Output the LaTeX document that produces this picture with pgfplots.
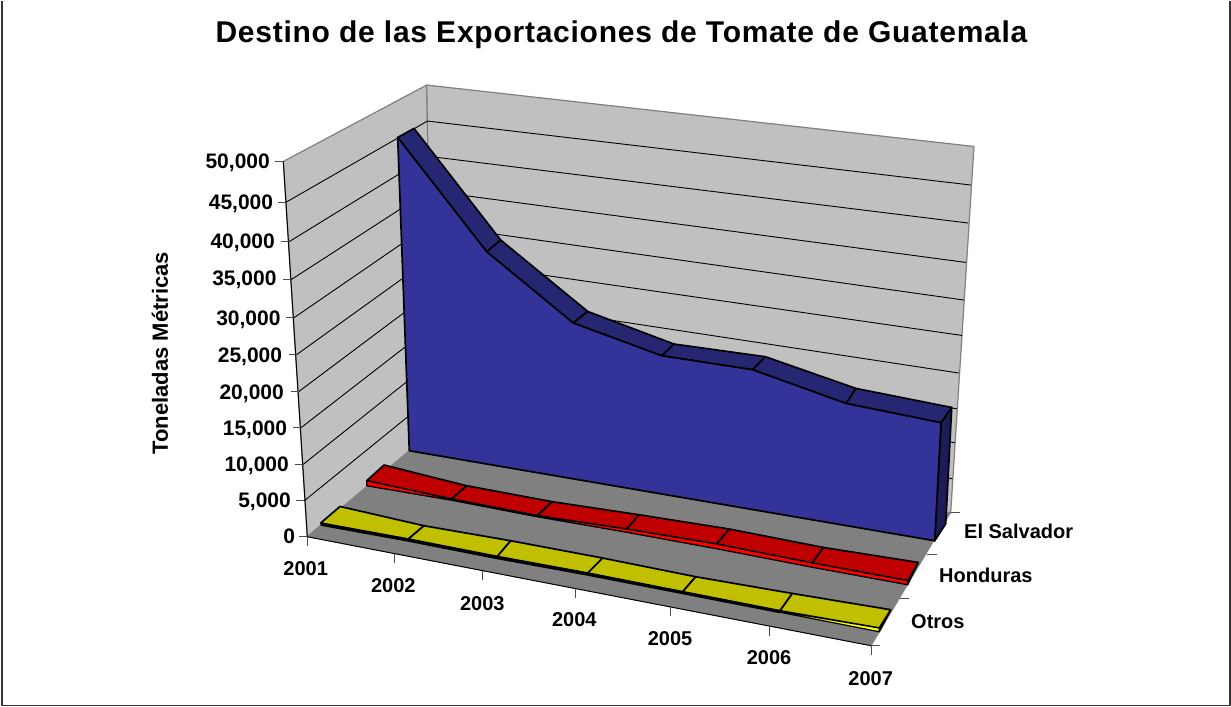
\documentclass[border=0pt]{standalone}
\usepackage{fontspec}
\setmainfont{Liberation Sans}
\usepackage{pgfplots}
\pgfplotsset{compat=1.18}
\definecolor{wall}{HTML}{C0C0C0}
\definecolor{flr}{HTML}{808080}
\definecolor{blueF}{HTML}{333399}
\definecolor{blueT}{HTML}{262673}
\definecolor{blueS}{HTML}{1C1C58}
\definecolor{redT}{HTML}{C00000}
\definecolor{redF}{HTML}{FF0000}
\definecolor{yelT}{HTML}{C0C000}
\definecolor{yelF}{HTML}{FFFF00}
\newcommand{\lab}{\fontsize{20}{24}\selectfont\bfseries}
\newcommand{\vlab}{\fontsize{21}{24}\selectfont\bfseries}
% the 3-D Excel view has real perspective, so the axis runs in picture pixels
\begin{document}
\begin{tikzpicture}
\begin{axis}[
  scale only axis, width=1231pt, height=706pt,
  xmin=0, xmax=1231, ymin=0, ymax=706, y dir=reverse,
  axis line style={draw=none}, ticks=none, clip=false,
  every axis plot/.append style={no markers, line join=round, sharp plot},
  gl/.style={black, line width=0.9pt},
  tk/.style={black!70, line width=1pt},
  ed/.style={draw=black, line width=1.7pt},
]
% frame, no top line in the reference
\addplot[black!80, line width=1.5pt] coordinates {(2,0)(2,704.5)(1230,704.5)(1230,0)};
% walls and floor
\addplot[fill=wall, draw=flr, line width=1.2pt] coordinates {(283.3,160.7)(426.7,84.3)(433,430)(307.3,536)} --cycle;
\addplot[fill=wall, draw=flr, line width=1.2pt] coordinates {(426.7,84.3)(974,145.7)(950.7,512)(433,430)} --cycle;
\addplot[fill=flr, draw=flr] coordinates {(307.3,536)(433,430)(950.7,512)(871.3,645)} --cycle;
\addplot[black, line width=1pt] coordinates {(283.3,160.7)(307.3,536)(871.3,645)};
% gridlines 5,000 to 45,000
\addplot[gl] coordinates {(286,201.5)(427.4,120.3)(971,184.3)};
\addplot[gl] coordinates {(289,241)(428,155.5)(968.3,222.3)};
\addplot[gl] coordinates {(291,279)(428.7,190)(966,261.7)};
\addplot[gl] coordinates {(294,317)(429.3,224)(964,299.3)};
\addplot[gl] coordinates {(296.5,354)(430,258)(962,334.7)};
\addplot[gl] coordinates {(298.5,391)(430.6,292)(959,372.3)};
\addplot[gl] coordinates {(301,427)(431.2,326)(956.7,408)};
\addplot[gl] coordinates {(302.7,464)(431.8,361)(954.8,442)};
\addplot[gl] coordinates {(304.3,500)(432.4,396)(952.5,478)};
% value ticks
\addplot[tk] coordinates {(275.3,160.7)(283.3,160.7)};
\addplot[tk] coordinates {(278,201.5)(286,201.5)};
\addplot[tk] coordinates {(281,241)(289,241)};
\addplot[tk] coordinates {(283,279)(291,279)};
\addplot[tk] coordinates {(286,317)(294,317)};
\addplot[tk] coordinates {(288.5,354)(296.5,354)};
\addplot[tk] coordinates {(290.5,391)(298.5,391)};
\addplot[tk] coordinates {(293,427)(301,427)};
\addplot[tk] coordinates {(294.7,464)(302.7,464)};
\addplot[tk] coordinates {(296.3,500)(304.3,500)};
\addplot[tk] coordinates {(299.3,536)(307.3,536)};
% year ticks
\addplot[tk] coordinates {(307.3,536)(307.3,545)};
\addplot[tk] coordinates {(394,553)(394,562)};
\addplot[tk] coordinates {(482.7,570)(482.7,579)};
\addplot[tk] coordinates {(575,588)(575,597)};
\addplot[tk] coordinates {(670,606)(670,615)};
\addplot[tk] coordinates {(769,626)(769,635)};
\addplot[tk] coordinates {(871.3,645)(871.3,654)};
% series ticks
\addplot[tk] coordinates {(950.7,512)(960,512)};
\addplot[tk] coordinates {(926.7,553.3)(936.7,553.3)};
\addplot[tk] coordinates {(900,597.3)(909.3,597.3)};
\addplot[tk] coordinates {(871.3,645)(880,645)};
% Otros
\addplot[fill=yelT, ed] coordinates {(320.7,522.3)(340,505.7)(424,525)(408.3,538.3)} --cycle;
\addplot[fill=yelT, ed] coordinates {(408.3,538.3)(424,525)(510.7,540)(497.3,555.7)} --cycle;
\addplot[fill=yelT, ed] coordinates {(497.3,555.7)(510.7,540)(602.7,557.3)(587.7,572.3)} --cycle;
\addplot[fill=yelT, ed] coordinates {(587.7,572.3)(602.7,557.3)(695.7,576)(682.7,591)} --cycle;
\addplot[fill=yelT, ed] coordinates {(682.7,591)(695.7,576)(792.3,592.7)(780,610)} --cycle;
\addplot[fill=yelT, ed] coordinates {(780,610)(792.3,592.7)(890.7,609)(879.3,627.3)} --cycle;
\addplot[black, line width=3pt] coordinates {(320.7,523.5)(408.3,539.5)(497.3,557)(587.7,573.5)(682.7,592)(780,611)};
\addplot[fill=yelF, draw=black, line width=1.2pt] coordinates {(780,610.5)(879.3,627.3)(879.3,631)(780,611.5)} --cycle;
\addplot[black, line width=1.6pt] coordinates {(890.7,609)(879.3,630.7)};
% Honduras
\addplot[fill=redT, ed] coordinates {(366.7,480)(384,464.3)(466.7,485)(451.7,498.3)} --cycle;
\addplot[fill=redT, ed] coordinates {(451.7,498.3)(466.7,485)(552.3,501)(537.3,515)} --cycle;
\addplot[fill=redT, ed] coordinates {(537.3,515)(552.3,501)(639,514)(626.7,528.3)} --cycle;
\addplot[fill=redT, ed] coordinates {(626.7,528.3)(639,514)(729.3,528.3)(716.7,543.3)} --cycle;
\addplot[fill=redT, ed] coordinates {(716.7,543.3)(729.3,528.3)(823.3,546.7)(812.3,562.3)} --cycle;
\addplot[fill=redT, ed] coordinates {(812.3,562.3)(823.3,546.7)(918.3,561.7)(908.3,580)} --cycle;
\addplot[fill=redF, draw=black, line width=1.3pt] coordinates {(366.7,480)(451.7,498.3)(537.3,515)(626.7,528.3)(716.7,543.3)(812.3,562.3)(908.3,580)(907.7,584)(812.3,566.5)(716.7,548)(626.7,531.5)(537.3,516)(451.7,499.5)(366.7,485)} --cycle;
\addplot[fill=redT, draw=black, line width=1.3pt] coordinates {(908.3,580)(918.3,561.7)(907.7,584)} --cycle;
% El Salvador
\addplot[fill=blueS, ed] coordinates {(941,422)(951.7,406.7)(945.7,523)(934.7,540)} --cycle;
\addplot[fill=blueT, ed] coordinates {(397.7,136.7)(414,127.7)(500.7,239.3)(486.7,251)} --cycle;
\addplot[fill=blueT, ed] coordinates {(486.7,251)(500.7,239.3)(587.7,310.7)(573.3,322.3)} --cycle;
\addplot[fill=blueT, ed] coordinates {(573.3,322.3)(587.7,310.7)(674,343.3)(661.7,355)} --cycle;
\addplot[fill=blueT, ed] coordinates {(661.7,355)(674,343.3)(765.5,356)(752.7,369)} --cycle;
\addplot[fill=blueT, ed] coordinates {(752.7,369)(765.5,356)(856,387.7)(846,402.7)} --cycle;
\addplot[fill=blueT, ed] coordinates {(846,402.7)(856,387.7)(951.7,406.7)(941,422)} --cycle;
\addplot[fill=blueF, ed] coordinates {(397.7,136.7)(486.7,251)(573.3,322.3)(661.7,355)(752.7,369)(846,402.7)(941,422)(934.7,540)(409.3,450)} --cycle;
% text
\node[font={\fontsize{30}{34}\selectfont\bfseries\addfontfeatures{LetterSpace=2.5}}] at (axis cs:621.5,34) {Destino de las Exportaciones de Tomate de Guatemala};
\node[font=\fontsize{22}{26}\selectfont\bfseries, rotate=90] at (axis cs:160,352.5) {Toneladas Métricas};
\node[font=\vlab, anchor=east, inner xsep=0pt] at (axis cs:270,162) {50,000};
\node[font=\vlab, anchor=east, inner xsep=0pt] at (axis cs:273.3,203) {45,000};
\node[font=\vlab, anchor=east, inner xsep=0pt] at (axis cs:275,242) {40,000};
\node[font=\vlab, anchor=east, inner xsep=0pt] at (axis cs:276.7,279) {35,000};
\node[font=\vlab, anchor=east, inner xsep=0pt] at (axis cs:280.7,319) {30,000};
\node[font=\vlab, anchor=east, inner xsep=0pt] at (axis cs:282.3,356) {25,000};
\node[font=\vlab, anchor=east, inner xsep=0pt] at (axis cs:284,393) {20,000};
\node[font=\vlab, anchor=east, inner xsep=0pt] at (axis cs:287.3,429) {15,000};
\node[font=\vlab, anchor=east, inner xsep=0pt] at (axis cs:289,465) {10,000};
\node[font=\vlab, anchor=east, inner xsep=0pt] at (axis cs:291,501) {5,000};
\node[font=\vlab, anchor=east, inner xsep=0pt] at (axis cs:295.3,536) {0};
\node[font=\lab] at (axis cs:305.7,568) {2001};
\node[font=\lab] at (axis cs:393.3,585) {2002};
\node[font=\lab] at (axis cs:482.3,602.5) {2003};
\node[font=\lab] at (axis cs:574.3,619) {2004};
\node[font=\lab] at (axis cs:670,637.5) {2005};
\node[font=\lab] at (axis cs:769,657) {2006};
\node[font=\lab] at (axis cs:870.7,677.5) {2007};
\node[font=\lab, anchor=west, inner xsep=0pt] at (axis cs:964,531) {El Salvador};
\node[font=\lab, anchor=west, inner xsep=0pt] at (axis cs:939,575) {Honduras};
\node[font=\lab, anchor=west, inner xsep=0pt] at (axis cs:911,621) {Otros};
\end{axis}
\end{tikzpicture}
\end{document}
